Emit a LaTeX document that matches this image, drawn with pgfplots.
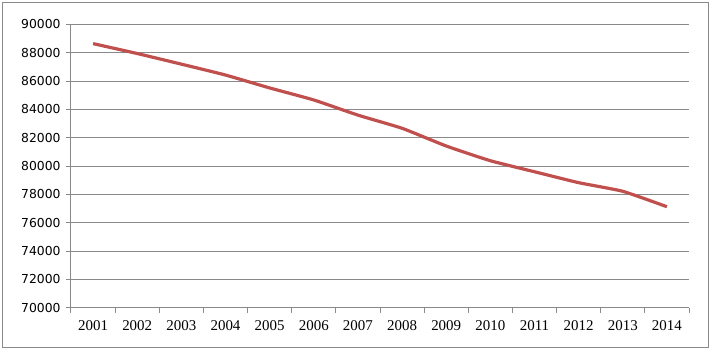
\documentclass[border=0pt]{standalone}
\usepackage{pgfplots}
\pgfplotsset{compat=1.18}
\usepackage{fontspec}
\setmainfont{Liberation Serif}
\newfontfamily\ysans{DejaVu Sans}
\definecolor{linered}{HTML}{C0504D}
\definecolor{gridgray}{HTML}{898989}
\begin{document}
\begin{tikzpicture}
\path[use as bounding box] (-71bp,-44.3bp) rectangle (642bp,307.7bp);
\draw[gridgray, line width=1bp] (-68bp,-39.3bp) rectangle (637bp,304.7bp);
\begin{axis}[
  at={(0,0)}, anchor=south west,
  scale only axis, width=618bp, height=283.2bp,
  xmin=0.5, xmax=14.5, ymin=70000, ymax=90000,
  axis x line*=bottom, axis y line*=left,
  axis line style={gridgray, line width=1bp, -},
  xtick={0.5,1.5,...,14.5},
  xticklabels={2001,2002,2003,2004,2005,2006,2007,2008,2009,2010,2011,2012,2013,2014},
  x tick label as interval,
  ytick={70000,72000,...,90000},
  scaled y ticks=false,
  ymajorgrids,
  grid style={gridgray, line width=1bp},
  tick align=outside,
  major tick length=5bp,
  tick style={gridgray, line width=1bp},
  yticklabel style={font=\ysans\fontsize{12.4}{14}\selectfont, /pgf/number format/1000 sep={}, /pgf/number format/assume math mode=true, xshift=-2bp},
  xticklabel style={font=\fontsize{15}{17}\selectfont, yshift=-4bp},
  /pgf/number format/1000 sep={},
]
\addplot[linered, line width=3.2bp, smooth, tension=0.3] coordinates {
(1,88650) (2,87950) (3,87200) (4,86430) (5,85520) (6,84670) (7,83600)
(8,82670) (9,81420) (10,80380) (11,79600) (12,78830) (13,78220) (14,77130)
};
\end{axis}
\end{tikzpicture}
\end{document}
